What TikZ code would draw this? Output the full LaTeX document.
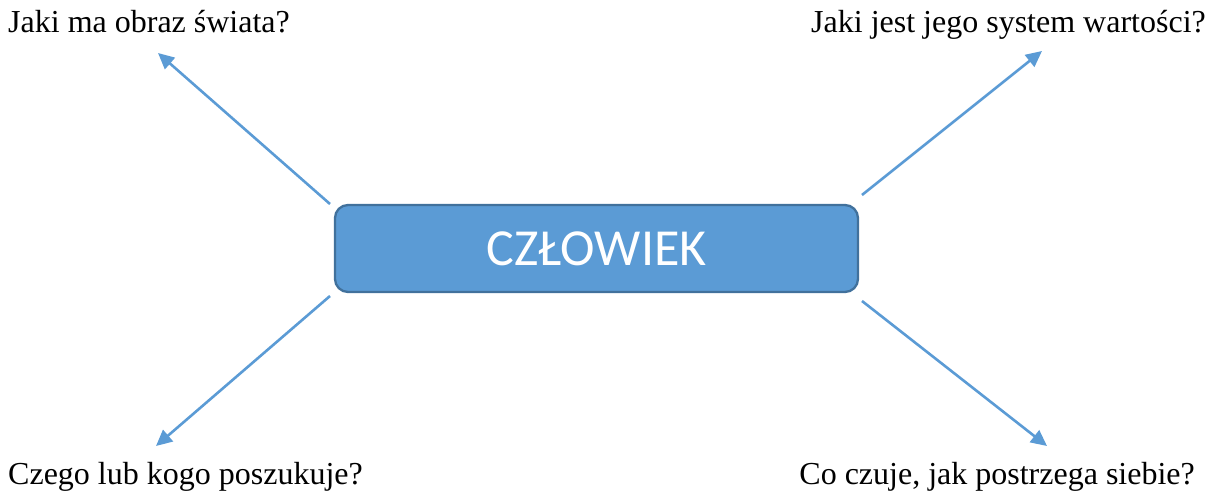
\documentclass[tikz,border=0pt]{standalone}
\usepackage{fontspec}
\setmainfont{Liberation Serif}
\newfontfamily\boxfont{Carlito}
\usetikzlibrary{arrows.meta}
\definecolor{boxfill}{HTML}{5B9BD5}
\definecolor{boxedge}{HTML}{41719C}
\begin{document}
\begin{tikzpicture}[x=1pt,y=-1pt,
  mainbox/.style={draw=boxedge,line width=2.3pt,fill=boxfill,rounded corners=13pt,
    minimum width=523pt,minimum height=87pt,inner sep=0pt,text=white,
    font=\boxfont\fontsize{52}{62}\selectfont},
  label/.style={inner sep=0pt,font=\fontsize{32}{38}\selectfont},
  conn/.style={draw=boxfill,line width=2.6pt,-{Triangle[length=16pt,width=15pt]}}]
\useasboundingbox (0,0) rectangle (1215,492);
\node[mainbox] (c) at (596.5,248.5) {CZŁOWIEK};
\node[label,anchor=base west] (tl) at (8,33) {Jaki ma obraz świata?};
\node[label,anchor=base east] (tr) at (1206,33) {Jaki jest jego system wartości?};
\node[label,anchor=base west] (bl) at (8,484) {Czego lub kogo poszukuje?};
\node[label,anchor=base east] (br) at (1195,484) {Co czuje, jak postrzega siebie?};
\coordinate (s1) at (330,204);
\coordinate (e1) at (158,53);
\coordinate (s2) at (862,195);
\coordinate (e2) at (1042,51);
\coordinate (s3) at (330,296);
\coordinate (e3) at (156,446);
\coordinate (s4) at (862,301);
\coordinate (e4) at (1047,446);
\draw[conn] (s1) -- (e1);
\draw[conn] (s2) -- (e2);
\draw[conn] (s3) -- (e3);
\draw[conn] (s4) -- (e4);
\end{tikzpicture}
\end{document}
